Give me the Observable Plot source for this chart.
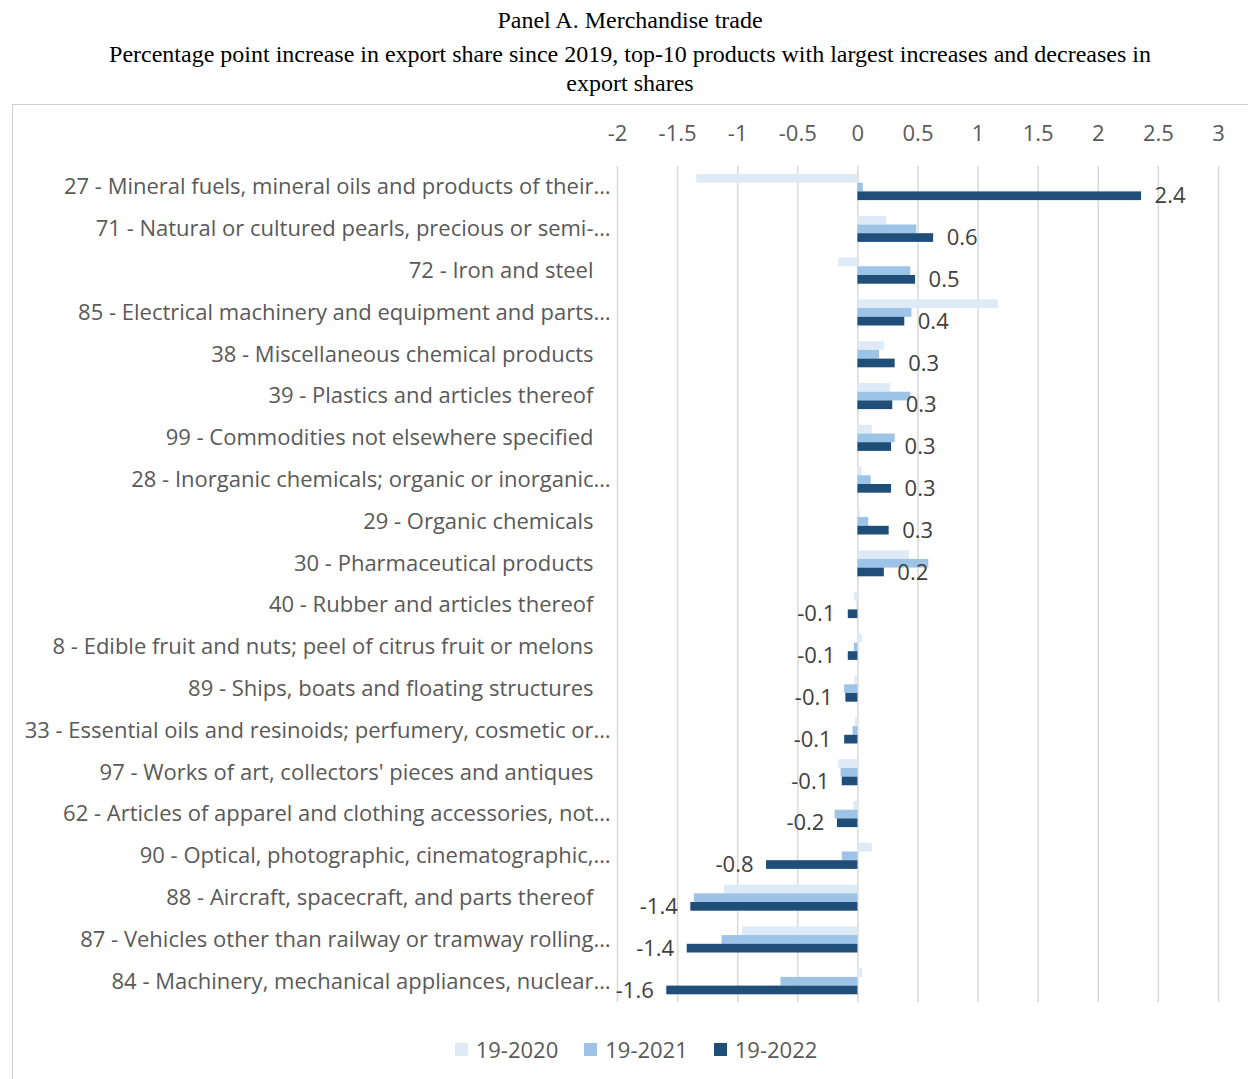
<!DOCTYPE html>
<html>
<head>
<meta charset="utf-8">
<script src="https://cdn.jsdelivr.net/npm/d3@7"></script>
<script src="https://cdn.jsdelivr.net/npm/@observablehq/plot@0.6"></script>
<style>
  html, body { margin: 0; padding: 0; background: #fff; width: 1248px; height: 1079px; overflow: hidden; position: relative; }
  .title { position: absolute; left: 12px; width: 1236px; top: 6px; text-align: center; font-family: "Liberation Serif", "Times New Roman", serif; font-size: 24px; line-height: 28px; color: #000; }
  .subtitle { position: absolute; left: 95px; width: 1070px; top: 40px; text-align: center; font-family: "Liberation Serif", "Times New Roman", serif; font-size: 24px; line-height: 29px; color: #000; }
  .frame { position: absolute; left: 12px; top: 104px; width: 1260px; height: 1010px; border: 1px solid #d0d0d0; box-sizing: border-box; }
  #chart { position: absolute; left: 12px; top: 105px; }
  .legend { position: absolute; left: 18px; width: 1236px; top: 1036px; display: flex; justify-content: center; gap: 26px; font-family: "Open Sans", Lato, sans-serif; font-size: 22px; color: #595959; line-height: 26px; }
  .legend span.item { display: flex; align-items: center; gap: 8px; }
  .legend i { display: inline-block; width: 13px; height: 13px; }
</style>
</head>
<body>
<div class="title">Panel A. Merchandise trade</div>
<div class="subtitle">Percentage point increase in export share since 2019, top-10 products with largest increases and decreases in export shares</div>
<div class="frame"></div>
<div id="chart"></div>
<div class="legend" id="legend"></div>
<script>
const categories = [
  "27 - Mineral fuels, mineral oils and products of their…",
  "71 - Natural or cultured pearls, precious or semi-…",
  "72 - Iron and steel",
  "85 - Electrical machinery and equipment and parts…",
  "38 - Miscellaneous chemical products",
  "39 - Plastics and articles thereof",
  "99 - Commodities not elsewhere specified",
  "28 - Inorganic chemicals; organic or inorganic…",
  "29 - Organic chemicals",
  "30 - Pharmaceutical products",
  "40 - Rubber and articles thereof",
  "8 - Edible fruit and nuts; peel of citrus fruit or melons",
  "89 - Ships, boats and floating structures",
  "33 - Essential oils and resinoids; perfumery, cosmetic or…",
  "97 - Works of art, collectors' pieces and antiques",
  "62 - Articles of apparel and clothing accessories, not…",
  "90 - Optical, photographic, cinematographic,…",
  "88 - Aircraft, spacecraft, and parts thereof",
  "87 - Vehicles other than railway or tramway rolling…",
  "84 - Machinery, mechanical appliances, nuclear…"
];
const v2020 = [-1.34, 0.24, -0.16, 1.17, 0.22, 0.27, 0.12, 0.035, 0.02, 0.43, -0.027, 0.036, -0.027, -0.02, -0.16, -0.033, 0.12, -1.11, -0.96, 0.04];
const v2021 = [0.045, 0.49, 0.44, 0.45, 0.18, 0.44, 0.31, 0.11, 0.09, 0.59, -0.005, -0.03, -0.11, -0.04, -0.14, -0.19, -0.13, -1.36, -1.13, -0.64];
const v2022 = [2.36, 0.63, 0.48, 0.39, 0.31, 0.29, 0.28, 0.28, 0.26, 0.22, -0.08, -0.08, -0.10, -0.11, -0.13, -0.17, -0.76, -1.39, -1.42, -1.59];
const seriesNames = ["19-2020", "19-2021", "19-2022"];
const seriesColors = ["#deebf7", "#9dc3e6", "#1f4e79"];
const xTicks = [-2, -1.5, -1, -0.5, 0, 0.5, 1, 1.5, 2, 2.5, 3];

const allValues = [v2020, v2021, v2022];
const rows = seriesNames.map((s, i) => categories.map((c, j) => ({category: c, series: s, value: allValues[i][j]})));
const last = rows[2];

const bandH = (897 - 61) / categories.length;
const barH = 8.7;
const topPad = 8;
const barMarks = rows.map((data, i) => Plot.barX(data, {
  x: "value", y: "category", fill: seriesColors[i],
  insetTop: topPad + i * barH,
  insetBottom: bandH - topPad - (i + 1) * barH
}));

const fmt = v => v.toFixed(1);
const isTrunc = c => c.endsWith("…");
const sans = "'Open Sans', Lato, sans-serif";

const chart = Plot.plot({
  width: 1236,
  height: 915,
  marginLeft: 605,
  marginRight: 30,
  marginTop: 61,
  marginBottom: 18,
  style: {fontFamily: sans, fontSize: "22px", color: "#595959", background: "transparent"},
  x: {domain: [-2, 3], label: null},
  y: {domain: categories, range: [61, 897], padding: 0, round: false, axis: null},
  marks: [
    Plot.ruleX(xTicks, {stroke: "#d9d9d9", strokeWidth: 1.5}),
    ...barMarks,
    Plot.axisX(xTicks, {anchor: "top", label: null, tickSize: 0, tickPadding: 26, tickFormat: d => String(d), fontSize: 22, fill: "#595959"}),
    Plot.text(categories, {y: d => d, frameAnchor: "left", dx: -24, textAnchor: "end", text: d => d.replace(/…$/, ""), fontSize: 22, fill: "#595959"}),
    Plot.text(categories.filter(isTrunc), {y: d => d, frameAnchor: "left", dx: -24, textAnchor: "start", text: () => "…", fontSize: 22, fill: "#595959"}),
    Plot.text(last.filter(d => d.value >= 0), {x: "value", y: "category", text: d => fmt(d.value), textAnchor: "start", dx: 13, dy: 9, fontSize: 22, fill: "#404040"}),
    Plot.text(last.filter(d => d.value < 0), {x: "value", y: "category", text: d => fmt(d.value), textAnchor: "end", dx: -13, dy: 9, fontSize: 22, fill: "#404040"})
  ]
});
document.getElementById("chart").appendChild(chart);

const legend = document.getElementById("legend");
seriesNames.forEach((s, i) => {
  const item = document.createElement("span");
  item.className = "item";
  const sw = document.createElement("i");
  sw.style.background = seriesColors[i];
  item.appendChild(sw);
  item.appendChild(document.createTextNode(s));
  legend.appendChild(item);
});
</script>
</body>
</html>
